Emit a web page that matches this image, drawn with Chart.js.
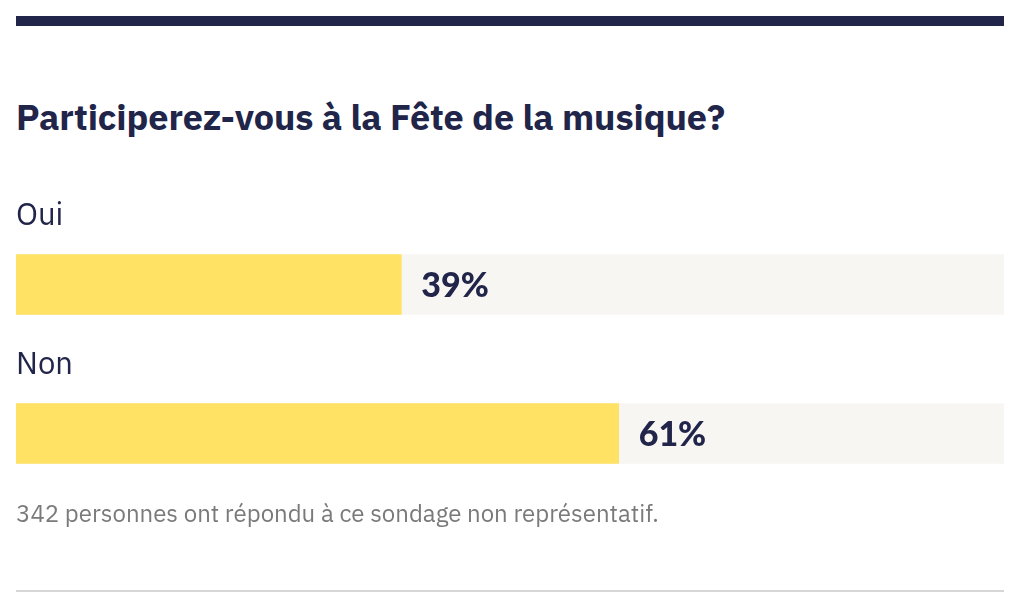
<!DOCTYPE html>
<html lang="fr">
<head>
<meta charset="utf-8">
<title>Fête de la musique</title>
<script src="https://cdn.jsdelivr.net/npm/chart.js@4/dist/chart.umd.min.js"></script>
<style>
  html, body { margin: 0; padding: 0; background: #fff; }
  body { width: 1016px; height: 610px; position: relative; overflow: hidden; font-family: "IBM Plex Sans", "Noto Sans", sans-serif; color: #21254a; }
  #topbar { position: absolute; left: 16px; top: 16px; width: 988px; height: 10px; background: #21254a; }
  h1 { position: absolute; left: 16px; top: 95px; margin: 0; font-size: 36px; line-height: 44px; font-weight: 700; letter-spacing: -0.1px; white-space: nowrap; }
  #wrap { position: absolute; left: 16px; top: 170px; width: 988px; height: 338px; }
  #note { position: absolute; left: 16px; top: 498px; margin: 0; font-size: 24px; line-height: 30px; color: #7a7a7a; white-space: nowrap; }
  #rule { position: absolute; left: 16px; top: 590px; width: 988px; height: 2px; background: #d6d6d6; }
</style>
</head>
<body>
<div id="topbar"></div>
<h1>Participerez-vous à la Fête de la musique?</h1>
<div id="wrap"><canvas id="sondage"></canvas></div>
<p id="note">342 personnes ont répondu à ce sondage non représentatif.</p>
<div id="rule"></div>

<script>
// les réponses du sondage
const categories = ["Oui", "Non"];
const shares = [39, 61]; // en %
const scaleMax = 100;

// la piste grise derrière chaque barre = 100%
const track = categories.map(() => scaleMax);

// dessine "Oui"/"Non" au-dessus des barres et le % à droite
const labelsPlugin = {
  id: "labels",
  afterDatasetsDraw(chart) {
    const ctx = chart.ctx;
    const bars = chart.getDatasetMeta(0).data;
    ctx.save();
    bars.forEach((bar, i) => {
      ctx.fillStyle = "#21254a";
      ctx.textBaseline = "middle";
      ctx.textAlign = "left";
      ctx.font = '400 31px "IBM Plex Sans", "Noto Sans", sans-serif';
      ctx.fillText(categories[i], chart.chartArea.left, bar.y - 68);
      ctx.font = '900 34px Lato, "Noto Sans", sans-serif';
      ctx.fillText(shares[i] + "%", bar.x + 20, bar.y + 2);
    });
    ctx.restore();
  }
};

const ctx = document.getElementById("sondage");

new Chart(ctx, {
  type: "bar",
  data: {
    labels: categories,
    datasets: [
      {
        label: "Réponses",
        data: shares,
        backgroundColor: "#ffe264",
        borderWidth: 0,
        barThickness: 60,
        grouped: false,
        order: 0,
      },
      {
        label: "Total",
        data: track,
        backgroundColor: "#f7f6f3",
        borderWidth: 0,
        barThickness: 60,
        grouped: false,
        order: 1,
      },
    ],
  },
  options: {
    indexAxis: "y",
    responsive: true,
    maintainAspectRatio: false,
    animation: false,
    layout: { padding: { top: 40 } },
    plugins: {
      legend: { display: false },
      tooltip: { enabled: false },
    },
    scales: {
      x: { display: false, min: 0, max: scaleMax },
      y: { display: false },
    },
  },
  plugins: [labelsPlugin],
});
</script>
</body>
</html>
